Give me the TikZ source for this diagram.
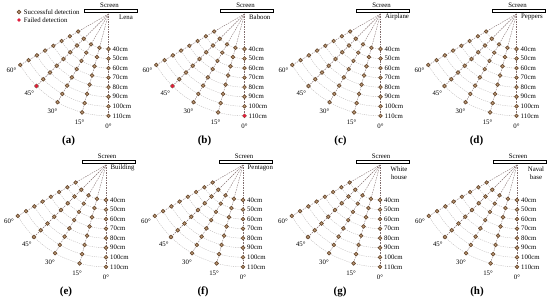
\documentclass[tikz,border=0pt]{standalone}
\usepackage{fontspec}
\setmainfont{Liberation Serif}
\usetikzlibrary{positioning}
\definecolor{raycol}{RGB}{130,110,110}
\definecolor{arccol}{RGB}{185,180,180}
\definecolor{okcol}{RGB}{105,75,48}
\definecolor{okfill}{RGB}{190,155,120}
\definecolor{badcol}{RGB}{225,30,60}
\begin{document}
\begin{tikzpicture}[x=1pt,y=1pt,
  ray/.style={dash pattern=on 1.5pt off 1pt, color=raycol, line width=0.4pt},
  ring/.style={dash pattern=on 1.2pt off 1pt, color=arccol, line width=0.35pt},
  ok/.style={circle, draw=okcol, fill=okfill, line width=0.7pt, inner sep=0pt, minimum size=3.6pt},
  bad/.style={circle, fill=badcol, inner sep=0pt, minimum size=3.8pt},
  txt/.style={font=\fontsize{6.8}{7.5}\selectfont, inner sep=0.5pt},
  tag/.style={font=\bfseries\fontsize{11}{12}\selectfont}]
\useasboundingbox (0,0) rectangle (550,-304);
% legend
\node[ok] (lg-ok) at (19,-12) {};
\node[txt, right=2pt of lg-ok] (lg-oktxt) {Successful detection};
\node[bad] (lg-bad) at (19,-20) {};
\node[txt, right=2pt of lg-bad] (lg-badtxt) {Failed detection};
% eight panels
\foreach \px/\py/\img/\ipos/\ianc/\tag in {108.5/-14/Lena/{(10,-3)}/west/a, 244.5/-14/Baboon/{(4,-3)}/west/b, 380.5/-14/Airplane/{(4,-3)}/west/c, 516.5/-14/Peppers/{(4,-3)}/west/d, 106/-165/Building/{(4,-3)}/west/e, 243/-165/Pentagon/{(4,-3)}/west/f, 380/-165/{White\\house}/{(19,-8)}/center/g, 517/-165/{Naval\\base}/{(19,-8)}/center/h}
{
\begin{scope}[shift={(\px,\py)}]
\coordinate (o-\tag) at (0,0);
\draw[line width=0.5pt] (-24,5) rectangle (29,1.5);
\node[txt] (scr-\tag) at (1,9) {Screen};
\node[txt, anchor=\ianc, align=center] (img-\tag) at \ipos {\img};
\foreach \a in {0,15,30,45,60} {
  \draw[ray] (o-\tag) -- ({270-\a}:104) coordinate (e-\tag-\a);
  \node[txt] (ang-\tag-\a) at ({270-\a}:112) {\a°};
}
\foreach \d in {40,50,...,110} {
  \pgfmathsetmacro\r{35+(\d-40)*0.955}
  \draw[ring] (270:\r) arc[start angle=270, end angle=210, radius=\r];
  \foreach \a in {0,15,30,45,60} \node[ok] (p-\tag-\a-\d) at ({270-\a}:\r) {};
  \node[txt, anchor=west] (dist-\tag-\d) at (3.5,-\r) {\d cm};
}
\node[tag] (t-\tag) at (-40,-127) {(\tag)};
\end{scope}
}
% failed detections
\node[bad] (f-a-45) at (p-a-45-110) {};
\node[bad] (f-b-45) at (p-b-45-110) {};
\node[bad] (f-b-0) at (p-b-0-110) {};
\end{tikzpicture}
\end{document}
